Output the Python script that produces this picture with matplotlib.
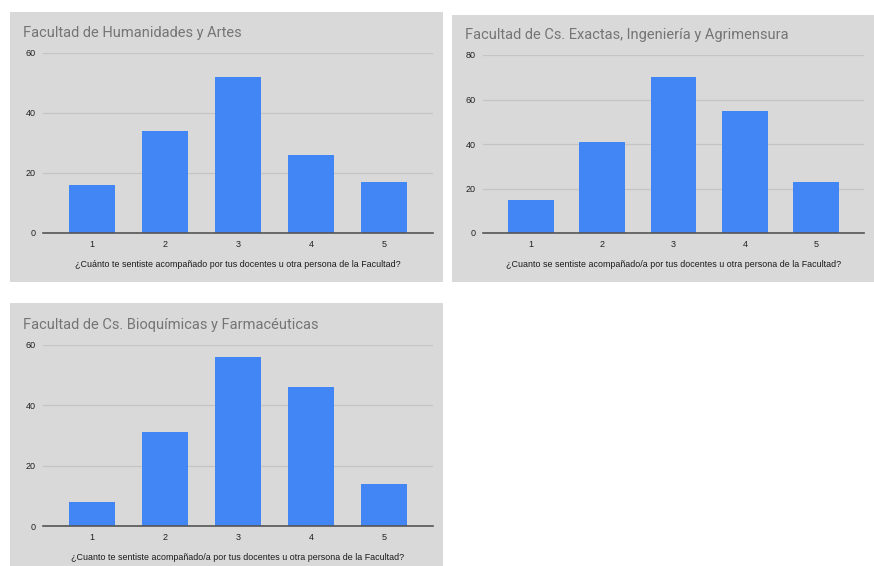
import matplotlib.pyplot as plt
from matplotlib.patches import Rectangle

categories = ["1", "2", "3", "4", "5"]

titles = [
    "Facultad de Humanidades y Artes",
    "Facultad de Cs. Exactas, Ingeniería y Agrimensura",
    "Facultad de Cs. Bioquímicas y Farmacéuticas",
]
xlabels = [
    "¿Cuánto te sentiste acompañado por tus docentes u otra persona de la Facultad?",
    "¿Cuanto se sentiste acompañado/a por tus docentes u otra persona de la Facultad?",
    "¿Cuanto te sentiste acompañado/a por tus docentes u otra persona de la Facultad?",
]
humanidades = [16, 34, 52, 26, 17]
exactas = [15, 41, 70, 55, 23]
bioquimicas = [8, 31, 56, 46, 14]
series = [humanidades, exactas, bioquimicas]
ymax = [60, 80, 60]

W, H = 874, 566
bg = "#d9d9d9"
blue = "#4285f4"

fig = plt.figure(figsize=(W / 100, H / 100), dpi=100)
fig.patch.set_facecolor("white")

# panel boxes (px): background, axes area, title position
panels = [
    dict(box=(10, 12, 443, 282), ax=(43, 53, 433, 233), title=(23, 33)),
    dict(box=(452, 15, 874, 282), ax=(483, 55, 864, 233), title=(465, 35)),
    dict(box=(10, 303, 443, 566), ax=(43, 345, 433, 526), title=(23, 325)),
]

for p, title, xl, vals, top in zip(panels, titles, xlabels, series, ymax):
    x0, y0, x1, y1 = p["box"]
    fig.patches.append(Rectangle((x0 / W, 1 - y1 / H), (x1 - x0) / W, (y1 - y0) / H,
                                 transform=fig.transFigure, facecolor=bg,
                                 edgecolor="none", zorder=-10))
    a0, b0, a1, b1 = p["ax"]
    ax = fig.add_axes([a0 / W, 1 - b1 / H, (a1 - a0) / W, (b1 - b0) / H], zorder=1)
    ax.set_facecolor("none")
    ax.bar(range(1, 6), vals, width=0.64, color=blue, zorder=3)
    ax.set_xlim(0.33, 5.67)
    ax.set_ylim(0, top)
    ax.set_yticks(range(0, top + 1, 20))
    ax.set_xticks(range(1, 6))
    ax.set_xticklabels(categories)
    ax.grid(axis="y", color="#c4c4c4", linewidth=0.9, zorder=1)
    ax.axhline(0, color="#555555", linewidth=1.2, zorder=4, clip_on=False)
    for s in ax.spines.values():
        s.set_visible(False)
    ax.tick_params(length=0, labelsize=6.5, colors="#222222", pad=5)
    for lab in ax.get_xticklabels() + ax.get_yticklabels():
        lab.set_family("Liberation Sans")
    ax.set_xlabel(xl, fontsize=6.4, color="#1a1a1a", family="Liberation Sans", labelpad=8)
    tx, ty = p["title"]
    fig.text(tx / W, 1 - ty / H, title, fontsize=10.5, color="#757575",
             family="Roboto", va="center", ha="left", zorder=2)

fig.savefig("out.png", dpi=100)
